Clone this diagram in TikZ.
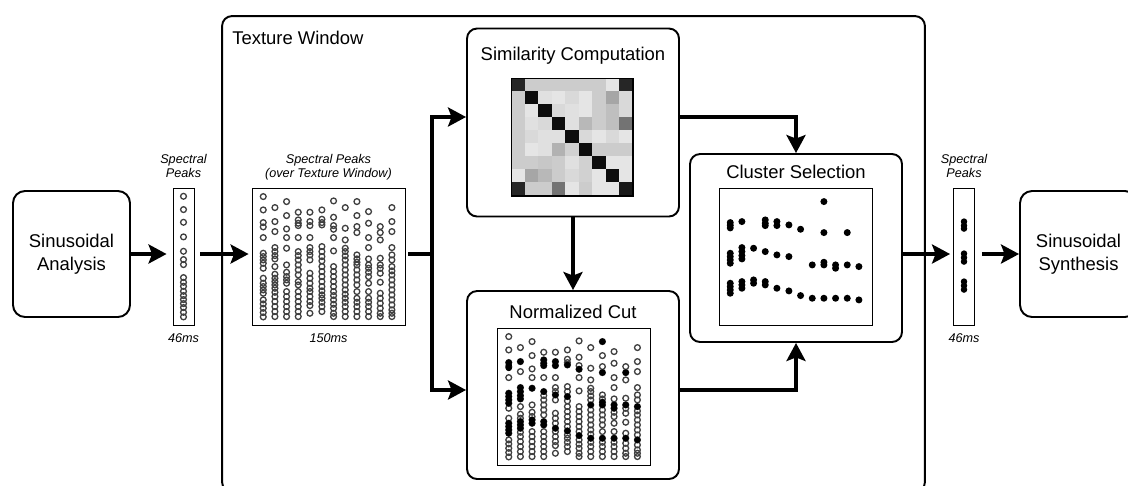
\documentclass[tikz,border=0pt]{standalone}
\usepackage{fontspec}
\setmainfont{Liberation Sans}
\usetikzlibrary{arrows.meta}

% peak tracks: column offset / row offsets (1/3 px)
\def\peaklist{35/{35,75,113,126,158,205,215,225,235,250,280,295,305,315,325,345,357,370,383,396},
  70/{68,110,140,188,200,212,222,245,268,280,290,300,310,322,335,350,365,380,395},
  105/{50,92,132,158,190,240,262,275,285,295,320,335,350,365,380,395},
  140/{82,105,115,122,158,200,212,225,240,255,270,290,300,320,335,350,365,380,395},
  175/{82,110,122,158,188,200,210,225,265,280,295,310,320,335,350,362,385},
  211/{75,103,113,120,185,200,215,228,245,260,275,290,305,318,330,340,352,365,380},
  246/{48,97,122,133,158,198,245,260,275,290,305,320,332,345,358,370,385,395},
  281/{68,130,165,190,200,213,225,240,255,270,285,300,315,328,340,352,365,380,395},
  316/{50,92,125,143,210,222,232,240,255,270,285,300,320,340,352,365,380,395},
  351/{80,115,158,188,222,240,250,262,275,295,320,340,352,365,380,395},
  386/{125,143,165,220,240,250,265,292,325,340,355,370,385,395},
  421/{68,110,140,188,210,225,245,258,270,285,300,315,330,345,360,375,385,395}}
\def\clusterlist{35/{113,121,129,205,215,225,235,295,305,315,325},
  70/{110,188,200,212,222,290,300,310},
  105/{190,285,295},
  140/{105,115,122,200,290,300},
  175/{110,122,210,310},
  211/{120,215,318},
  246/{133,332},
  281/{240,340},
  316/{50,143,232,240,340},
  351/{240,250,340},
  386/{143,240,340},
  421/{245,345}}

\tikzset{
  winbox/.style={draw,line width=1.1pt,rounded corners=0.2cm,minimum width=14.06cm,minimum height=9.52cm},
  blockbox/.style={draw,line width=1.1pt,rounded corners=0.24cm,minimum width=2.34cm,minimum height=2.52cm,
    align=center,font=\fontsize{10.5}{13.3}\selectfont},
  procbox/.style={draw,line width=1.1pt,rounded corners=0.2cm,minimum width=4.24cm,minimum height=3.76cm},
  plotbox/.style={draw,line width=0.5pt,minimum width=3.06cm,minimum height=2.74cm},
  peakbox/.style={draw,line width=0.5pt,minimum width=0.42cm,minimum height=2.74cm},
  matbox/.style={draw,line width=0.6pt,minimum width=2.42cm,minimum height=2.34cm},
  boxtitle/.style={font=\fontsize{10.5}{12.6}\selectfont},
  smalltxt/.style={font=\fontsize{7.2}{8.2}\selectfont\itshape,align=center},
  flow/.style={line width=2.8pt,-{Stealth[length=0.36cm,width=0.38cm,inset=0.07cm]}},
  flowline/.style={line width=2.8pt},
  openpk/.style={draw=black!75,line width=0.75pt},
  fullpk/.style={fill=black}
}

\begin{document}
\begin{tikzpicture}
  [x=0.02cm,y=-0.02cm,every node/.style={inner sep=0pt}]
  \useasboundingbox (0,0) rectangle (1128,485);
  % texture window
  \node[winbox] (tex) at (573.5,254) {};
  \node[boxtitle,anchor=base west] (textitle) at (232,44.3) {Texture Window};
  % processing blocks
  \node[blockbox] (ana) at (71.5,254) {Sinusoidal\\Analysis};
  \node[blockbox] (syn) at (1078.5,254) {Sinusoidal\\Synthesis};
  \node[procbox] (sim) at (573,122.5) {};
  \node[procbox] (ncut) at (573,385) {};
  \node[procbox] (clu) at (796,248) {};
  \node[boxtitle,anchor=base] (simtitle) at (573,60.5) {Similarity Computation};
  \node[boxtitle,anchor=base] (ncuttitle) at (573,318.3) {Normalized Cut};
  \node[boxtitle,anchor=base] (clutitle) at (796,178.3) {Cluster Selection};
  % plots
  \node[peakbox] (pk1) at (183.5,256.5) {};
  \node[peakbox] (pk2) at (964,256.5) {};
  \node[plotbox] (win) at (328.5,256.5) {};
  \node[plotbox] (ncutplot) at (574,396.5) {};
  \node[plotbox] (cluplot) at (795.5,256.5) {};
  \node[matbox] (simmat) at (572.5,137.5) {};
  \node[smalltxt,anchor=north] (pk1top) at (183.5,154) {Spectral\\Peaks};
  \node[smalltxt,anchor=base] (pk1bot) at (183.5,342) {46ms};
  \node[smalltxt,anchor=north] (wintop) at (328.5,154) {Spectral Peaks\\(over Texture Window)};
  \node[smalltxt,anchor=base] (winbot) at (328.5,342) {150ms};
  \node[smalltxt,anchor=north] (pk2top) at (964,154) {Spectral\\Peaks};
  \node[smalltxt,anchor=base] (pk2bot) at (964,342) {46ms};

  % similarity matrix
  \begin{scope}[shift={(simmat.north west)}]
    \foreach \row [count=\r from 0] in {{85,20,20,20,20,20,20,10,85},{20,95,12,10,15,10,20,35,15},
      {20,10,95,15,12,10,20,25,15},{20,12,15,95,12,28,20,25,55},{20,15,12,12,95,15,10,15,10},
      {20,10,12,30,18,95,20,20,20},{20,20,22,20,12,18,95,10,10},{10,35,28,20,15,18,10,95,10},
      {85,20,20,55,10,20,10,10,90}}
      \foreach \g [count=\c from 0] in \row
        \fill[black!\g] (\c*13.44,\r*13) rectangle ++(13.44,13);
  \end{scope}
  \draw[line width=0.6pt] (simmat.north west) rectangle (simmat.south east);

  % single frames
  \begin{scope}[shift={(pk1.north)}]
    \foreach \yy in {8.7,22,34.7,49.3,63.7,72,77,90,94.7,98.7,103.7,108,112,116,120,124.7,129.3}
      \draw[openpk] (0,\yy) circle (0.058cm);
  \end{scope}
  \begin{scope}[shift={(pk2.north)}]
    \foreach \yy in {34,38,41,66,70,74,94,98,102}
      \fill[fullpk] (0,\yy) circle (0.065cm);
  \end{scope}

  % peaks over the texture window
  \begin{scope}[shift={(win.north west)},x=0.00667cm,y=-0.00667cm]
    \foreach \cx/\ys in \peaklist
      \foreach \yy in \ys
        \draw[openpk] (\cx,\yy-8) circle (0.058cm);
  \end{scope}
  \begin{scope}[shift={(ncutplot.north west)},x=0.00667cm,y=-0.00667cm]
    \foreach \cx/\ys in \peaklist
      \foreach \yy in \ys
        \draw[openpk] (\cx,\yy-8) circle (0.058cm);
    \foreach \cx/\ys in \clusterlist
      \foreach \yy in \ys
        \fill[fullpk] (\cx,\yy-8) circle (0.065cm);
  \end{scope}
  \begin{scope}[shift={(cluplot.north west)},x=0.00667cm,y=-0.00667cm]
    \foreach \cx/\ys in \clusterlist
      \foreach \yy in \ys
        \fill[fullpk] (\cx,\yy-8) circle (0.07cm);
  \end{scope}

  % connectors
  \coordinate (split) at (432,254);
  \draw[flow,shorten >=0.12cm] (ana.east) -- (ana.east -| pk1.west);
  \draw[flow,shorten <=0.12cm,shorten >=0.06cm] (pk1.east |- ana) -- (win.west |- ana);
  \draw[flowline,shorten <=0.06cm] (win.east |- split) -- (split);
  \draw[flow] (split) |- ([yshift=0.11cm]sim.west);
  \draw[flow] (split) |- ([yshift=-0.1cm]ncut.west);
  \draw[flow] ([yshift=0.11cm]sim.east) -| (clu.north);
  \draw[flow] (sim.south) -- (ncut.north);
  \draw[flow] ([yshift=-0.1cm]ncut.east) -| (clu.south);
  \draw[flow,shorten >=0.06cm] (clu.east |- ana) -- (pk2.west |- ana);
  \draw[flow,shorten <=0.14cm] (pk2.east |- syn) -- (syn.west);
\end{tikzpicture}
\end{document}
